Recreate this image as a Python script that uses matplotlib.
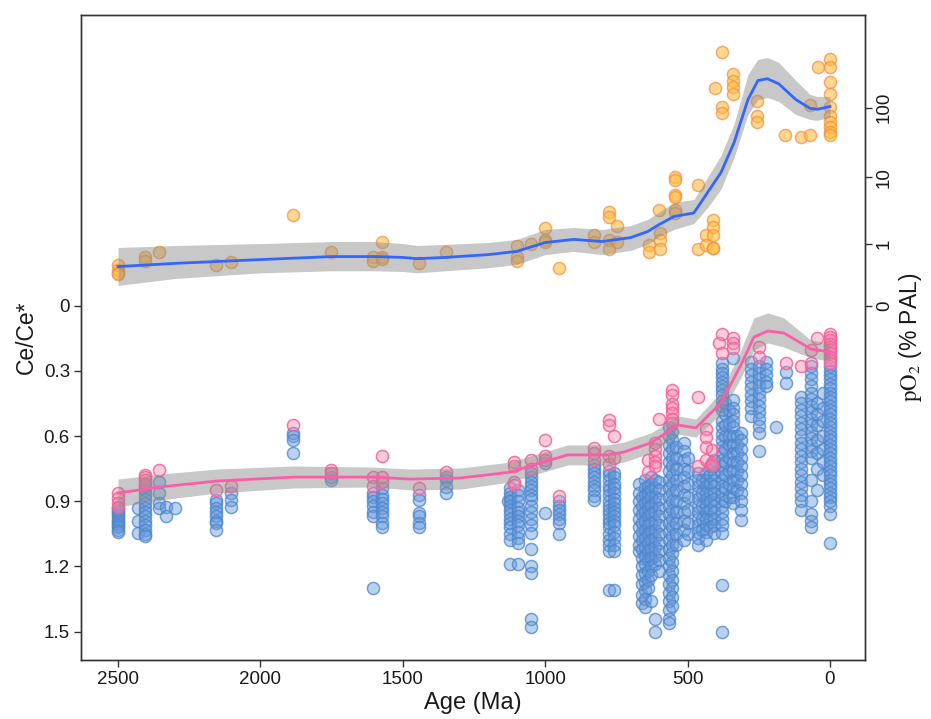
import numpy as np
import matplotlib
matplotlib.use("Agg")
import matplotlib.pyplot as plt

plt.rcParams["font.family"] = ["Liberation Sans", "DejaVu Sans"]
plt.rcParams["mathtext.fontset"] = "stix"

# ---------------- Ce/Ce* measurements (blue), grouped by age column (Ma) ----------------
blue_age = [2500, 2430, 2405, 2356, 2330, 2300, 2155, 2103, 1885, 1751, 1603, 1572,
            1442, 1350, 1130, 1122, 1097, 1051, 1000, 950, 830, 777, 760,
            672, 660, 650, 640, 628, 615, 600, 566, 553, 540, 513, 500, 464, 450,
            436, 420, 408, 380, 370, 355, 341, 325, 313, 278, 250, 225, 190, 155,
            102, 67, 45, 25, 0]
blue_ce = [
    [0.93, 0.94, 0.95, 0.96, 0.97, 0.98, 0.99, 1.0, 1.01, 1.02, 1.03, 1.04],
    [0.93, 0.99, 1.045],
    [0.83, 0.85, 0.87, 0.89, 0.91, 0.93, 0.95, 0.97, 0.99, 1.01, 1.03, 1.05, 1.06],
    [0.81, 0.86, 0.91, 0.93],
    [0.925, 0.97],
    [0.93],
    [0.895, 0.91, 0.93, 0.95, 0.97, 0.99, 1.0, 1.03],
    [0.86, 0.895, 0.925],
    [0.585, 0.60, 0.62, 0.68],
    [0.79, 0.80],
    [0.86, 0.88, 0.90, 0.92, 0.95, 0.97, 1.30],
    [0.84, 0.87, 0.89, 0.91, 0.93, 0.95, 0.97, 1.0, 1.02],
    [0.87, 0.895, 0.955, 0.97, 1.0, 1.02],
    [0.79, 0.80, 0.835, 0.86],
    [0.90],
    [0.84, 0.86, 0.88, 0.90, 0.92, 0.94, 0.96, 0.98, 1.0, 1.02, 1.05, 1.08, 1.19],
    [0.85, 0.87, 0.90, 0.93, 0.95, 0.97, 0.99, 1.01, 1.04, 1.07, 1.09, 1.19],
    [0.77, 0.79, 0.81, 0.83, 0.85, 0.87, 0.89, 0.92, 0.95, 0.98, 1.01, 1.045,
     1.12, 1.20, 1.23, 1.44, 1.48],
    [0.725, 0.955],
    [0.90, 0.92, 0.94, 0.96, 0.98, 1.0, 1.05],
    [0.735, 0.75, 0.77, 0.79, 0.81, 0.83, 0.85, 0.875, 0.895],
    [0.76, 0.78, 0.80, 0.83, 0.85, 0.87, 0.90, 0.92, 0.94, 0.96, 0.98, 1.0, 1.02,
     1.05, 1.08, 1.10, 1.13, 1.31],
    [0.77, 0.79, 0.82, 0.84, 0.86, 0.89, 0.91, 0.93, 0.95, 0.97, 0.99, 1.01, 1.04,
     1.07, 1.10, 1.13, 1.31],
    [0.82, 0.86, 0.90, 0.94, 0.98, 1.02, 1.06, 1.10, 1.13],
    [0.88, 0.92, 0.96, 1.0, 1.04, 1.08, 1.12, 1.16, 1.20, 1.24, 1.28, 1.33, 1.37],
    [0.80, 0.84, 0.87, 0.91, 0.95, 0.99, 1.03, 1.07, 1.11, 1.15, 1.19, 1.23, 1.27,
     1.31, 1.35, 1.385],
    [0.83, 0.86, 0.90, 0.93, 0.97, 1.01, 1.05, 1.09, 1.13, 1.17, 1.22, 1.26, 1.30],
    [0.79, 0.82, 0.85, 0.88, 0.92, 0.96, 1.0, 1.04, 1.08, 1.12, 1.16, 1.20, 1.24, 1.36],
    [0.80, 0.84, 0.88, 0.91, 0.95, 0.99, 1.03, 1.07, 1.11, 1.15, 1.19, 1.44, 1.50],
    [0.81, 0.85, 0.89, 0.93, 0.97, 1.01, 1.05, 1.09, 1.13, 1.17, 1.22],
    [0.56, 0.60, 0.64, 0.68, 0.72, 0.76, 0.80, 0.84, 0.88, 0.92, 0.96, 1.0, 1.04,
     1.08, 1.12, 1.16, 1.20, 1.24, 1.28, 1.32, 1.36, 1.40, 1.44, 1.46],
    [0.58, 0.62, 0.66, 0.70, 0.74, 0.78, 0.82, 0.86, 0.90, 0.94, 0.98, 1.02, 1.06,
     1.10, 1.14, 1.18, 1.22, 1.26, 1.30, 1.34, 1.38],
    [0.65, 0.70, 0.75, 0.80, 0.85, 0.90, 0.95, 1.0, 1.05, 1.10],
    [0.63, 0.67, 0.71, 0.75, 0.79, 0.83, 0.87, 0.91, 0.95, 0.99, 1.03, 1.08],
    [0.70, 0.76, 0.82, 0.88, 0.94, 1.0, 1.05],
    [0.77, 0.80, 0.83, 0.86, 0.89, 0.92, 0.95, 0.98, 1.01, 1.04, 1.07, 1.10],
    [0.80, 0.86, 0.92, 0.98, 1.03],
    [0.77, 0.80, 0.83, 0.86, 0.89, 0.92, 0.95, 0.98, 1.01, 1.04, 1.08],
    [0.74, 0.78, 0.82, 0.86, 0.90, 0.94, 0.98, 1.02],
    [0.71, 0.74, 0.77, 0.80, 0.83, 0.86, 0.89, 0.92, 0.95, 0.98, 1.01, 1.045],
    [0.265, 0.29, 0.31, 0.33, 0.35, 0.37, 0.39, 0.41, 0.44, 0.46, 0.48, 0.53, 0.56,
     0.59, 0.62, 0.65, 0.68, 0.71, 0.74, 0.77, 0.80, 0.83, 0.86, 0.89, 0.92, 0.95,
     0.98, 1.01, 1.045, 1.285, 1.50],
    [0.45, 0.50, 0.55, 0.60, 0.66, 0.72, 0.78, 0.84, 0.90],
    [0.48, 0.54, 0.60, 0.64, 0.70, 0.76, 0.82, 0.88],
    [0.24, 0.435, 0.47, 0.50, 0.53, 0.56, 0.60, 0.64, 0.68, 0.72, 0.76, 0.80, 0.84,
     0.88, 0.91],
    [0.60, 0.64, 0.68, 0.72, 0.76, 0.80, 0.85],
    [0.585, 0.62, 0.66, 0.70, 0.74, 0.78, 0.82, 0.86, 0.90, 0.94, 0.985],
    [0.26, 0.29, 0.32, 0.35, 0.38, 0.41, 0.44, 0.47, 0.51],
    [0.28, 0.31, 0.34, 0.37, 0.40, 0.43, 0.46, 0.49, 0.52, 0.555, 0.585, 0.67],
    [0.26, 0.29, 0.32, 0.35, 0.37],
    [0.56],
    [0.305, 0.355],
    [0.42, 0.45, 0.48, 0.51, 0.54, 0.57, 0.60, 0.63, 0.66, 0.69, 0.72, 0.75, 0.78,
     0.81, 0.84, 0.87, 0.90, 0.94],
    [0.28, 0.31, 0.34, 0.37, 0.40, 0.43, 0.46, 0.49, 0.52, 0.55, 0.58, 0.61, 0.64,
     0.67, 0.70, 0.80, 0.90, 0.96, 0.99, 1.02],
    [0.45, 0.50, 0.55, 0.62, 0.68, 0.75, 0.85],
    [0.40, 0.47, 0.53, 0.60, 0.66, 0.72, 0.78],
    [0.28, 0.30, 0.32, 0.34, 0.36, 0.38, 0.40, 0.42, 0.44, 0.46, 0.48, 0.50, 0.52,
     0.54, 0.56, 0.58, 0.60, 0.62, 0.64, 0.66, 0.68, 0.70, 0.72, 0.74, 0.76, 0.78,
     0.80, 0.82, 0.84, 0.86, 0.88, 0.90, 0.92, 0.96, 1.09],
]

# ---------------- Ce/Ce* minima per interval (pink) ----------------
pink_age = [2500, 2405, 2356, 2155, 2103, 1885, 1751, 1603, 1572, 1442, 1350, 1110,
            1051, 1000, 950, 830, 777, 760, 640, 615, 601, 553, 464, 436, 415, 390,
            380, 341, 250, 155, 102, 67, 45, 0]
pink_ce = [
    [0.86, 0.885, 0.91, 0.925], [0.78, 0.79, 0.80, 0.82], [0.756], [0.85], [0.83],
    [0.55], [0.755, 0.77], [0.79, 0.83], [0.69, 0.787, 0.81], [0.84], [0.766],
    [0.72, 0.74, 0.81, 0.825], [0.71, 0.75], [0.62, 0.69, 0.71], [0.875],
    [0.655, 0.68, 0.71], [0.527, 0.55, 0.69, 0.73], [0.60, 0.70], [0.71, 0.765],
    [0.63, 0.66, 0.69, 0.72, 0.74], [0.52], [0.39, 0.41, 0.455, 0.47, 0.495, 0.52, 0.54],
    [0.42, 0.74], [0.57, 0.605, 0.65, 0.71], [0.665, 0.725, 0.735], [0.17],
    [0.13, 0.22], [0.15, 0.17, 0.195], [0.19, 0.235], [0.265], [0.28], [0.205, 0.265],
    [0.15], [0.13, 0.145, 0.16, 0.175, 0.19, 0.205, 0.22, 0.235, 0.25, 0.265],
]

# ---------------- pO2 estimates (% PAL, orange) ----------------
o2_age = [2500, 2405, 2356, 2155, 2103, 1885, 1751, 1603, 1572, 1442, 1350, 1100,
          1051, 1002, 953, 830, 777, 748, 636, 601, 598, 545, 464, 436, 411, 404,
          380, 341, 257, 158, 102, 70, 42, 0]
o2_pal = [
    [0.41, 0.34, 0.29, 0.27], [0.60, 0.49], [0.71], [0.41], [0.47], [2.75], [0.71],
    [0.60, 0.49], [1.08, 0.60, 0.55], [0.45], [0.71], [0.90, 0.58, 0.49], [1.0],
    [1.75, 1.15, 1.08], [0.36], [1.4, 1.05], [3.1, 2.65, 1.15, 0.8], [1.93, 1.05],
    [0.96, 0.71], [3.3], [1.5, 1.15, 0.8], [10.2, 9.3, 5.6, 5.1, 3.3, 3.0],
    [7.85, 0.8], [1.4, 0.96], [2.35, 1.85, 1.4, 0.86, 0.86], [190], [620, 104, 84],
    [300, 245, 200, 155], [126, 75, 63], [41], [38], [41, 108], [380],
    [490, 380, 235, 155, 104, 75, 63, 53, 45, 41],
]

# ---------------- smoothed trends with confidence bands ----------------
o2_fit_age = [2500, 2300, 2000, 1750, 1600, 1500, 1450, 1350, 1200, 1100, 1000, 900,
              800, 700, 640, 600, 548, 478, 430, 383, 337, 288, 253, 220, 180, 120,
              70, 45, 0]
o2_fit = [0.39, 0.45, 0.53, 0.60, 0.60, 0.58, 0.55, 0.58, 0.65, 0.74, 1.04, 1.17,
          1.08, 1.25, 1.56, 2.0, 2.65, 3.0, 6.0, 11.7, 31.5, 131, 245, 260, 220, 131,
          98, 95, 104]
o2_fit_hi = [0.86, 0.93, 1.0, 1.08, 1.08, 1.0, 0.93, 0.97, 1.04, 1.17, 1.68, 1.8,
             1.68, 1.93, 2.4, 3.1, 4.3, 4.75, 10.0, 20.7, 58, 300, 490, 523, 444, 245,
             155, 145, 145]
o2_fit_lo = [0.14, 0.215, 0.29, 0.32, 0.32, 0.31, 0.29, 0.32, 0.37, 0.43, 0.65, 0.74,
             0.65, 0.77, 0.97, 1.30, 1.68, 2.08, 3.6, 6.7, 19.4, 80, 131, 140, 123, 80,
             68, 66, 73]

ce_fit_age = [2500, 2352, 2152, 1885, 1603, 1473, 1297, 1122, 1041, 921, 781, 724,
              629, 534, 471, 383, 313, 267, 218, 162, 67, 0]
ce_fit = [0.862, 0.834, 0.807, 0.789, 0.789, 0.798, 0.793, 0.766, 0.733, 0.687,
          0.687, 0.674, 0.632, 0.549, 0.563, 0.448, 0.274, 0.145, 0.117, 0.126,
          0.200, 0.214]
ce_fit_lo = [0.798, 0.775, 0.752, 0.738, 0.743, 0.752, 0.747, 0.720, 0.687, 0.641,
             0.641, 0.628, 0.586, 0.508, 0.522, 0.398, 0.205, 0.057, 0.034, 0.057,
             0.159, 0.172]
ce_fit_hi = [0.926, 0.894, 0.862, 0.839, 0.834, 0.848, 0.844, 0.811, 0.779, 0.733,
             0.733, 0.720, 0.678, 0.591, 0.605, 0.499, 0.333, 0.205, 0.172, 0.191,
             0.241, 0.255]

age_ticks = [2500, 2000, 1500, 1000, 500, 0]
ce_ticks = [0, 0.3, 0.6, 0.9, 1.2, 1.5]
ce_tick_labels = ["0", "0.3", "0.6", "0.9", "1.2", "1.5"]
o2_ticks = [0, 1, 10, 100]
o2_tick_labels = ["0", "1", "10", "100"]

# pO2 shares the inverted Ce/Ce* axis above zero on a compressed log scale
C_PAL = 0.15
K_DEC = 0.322


def o2_to_axis(p):
    p = np.asarray(p, dtype=float)
    return -K_DEC * np.log10(1.0 + p / C_PAL)


def flatten(ages, cols):
    xs, ys = [], []
    for a, vals in zip(ages, cols):
        xs.extend([a] * len(vals))
        ys.extend(vals)
    return np.array(xs, float), np.array(ys, float)


fig = plt.figure(figsize=(9.31, 7.19), dpi=100)
ax = fig.add_axes([81 / 931, 1 - 660 / 719, (865 - 81) / 931, (660 - 15) / 719])

ms = 76
bx, by = flatten(blue_age, blue_ce)
ax.scatter(bx, by, s=ms, facecolor=(0.40, 0.60, 0.86, 0.44),
           edgecolor=(0.30, 0.52, 0.80, 0.75), linewidth=1.1, zorder=2)
px, py = flatten(pink_age, pink_ce)
ax.scatter(px, py, s=ms, facecolor=(1.0, 0.50, 0.65, 0.40),
           edgecolor=(0.95, 0.38, 0.60, 0.85), linewidth=1.1, zorder=2.1)
ox, op = flatten(o2_age, o2_pal)
ax.scatter(ox, o2_to_axis(op), s=ms, facecolor=(1.0, 0.74, 0.25, 0.58),
           edgecolor=(0.97, 0.55, 0.25, 0.7), linewidth=1.1, zorder=2.2)

band_kw = dict(color="#8c8c8c", alpha=0.48, linewidth=0, zorder=3)
ax.fill_between(o2_fit_age, o2_to_axis(o2_fit_lo), o2_to_axis(o2_fit_hi), **band_kw)
ax.fill_between(ce_fit_age, ce_fit_lo, ce_fit_hi, **band_kw)
ax.plot(o2_fit_age, o2_to_axis(o2_fit), color="#3366FF", linewidth=2.0, zorder=4,
        solid_joinstyle="round")
ax.plot(ce_fit_age, ce_fit, color="#FF5CA8", linewidth=2.0, zorder=4,
        solid_joinstyle="round")

ax.set_xlim(2630, -123)
ax.set_ylim(1.630, -1.336)

ax.set_xticks(age_ticks)
ax.set_xticklabels([str(t) for t in age_ticks])
ax.set_yticks(ce_ticks)
ax.set_yticklabels(ce_tick_labels)
ax.tick_params(direction="out", length=5, width=1, labelsize=13.5, color="#333333",
               labelcolor="#1a1a1a", pad=3)
ax.set_xlabel("Age (Ma)", fontsize=17, labelpad=3, color="#1a1a1a")
ax.set_ylabel("Ce/Ce*", fontsize=16.5, labelpad=4, color="#1a1a1a")

ax2 = ax.twinx()
ax2.set_ylim(ax.get_ylim())
ax2.set_yticks(o2_to_axis(o2_ticks))
ax2.set_yticklabels(o2_tick_labels, rotation=90, va="center")
ax2.tick_params(direction="out", length=5, width=1, labelsize=13.5, color="#333333",
                labelcolor="#1a1a1a", pad=3)
ax2.set_ylabel(r"$\mathrm{pO}_2$ (% PAL)", fontsize=16.5, labelpad=3, color="#1a1a1a")

for a in (ax, ax2):
    for sp in a.spines.values():
        sp.set_linewidth(1.0)
        sp.set_color("#333333")

fig.savefig("out.png", dpi=100, facecolor="white")
